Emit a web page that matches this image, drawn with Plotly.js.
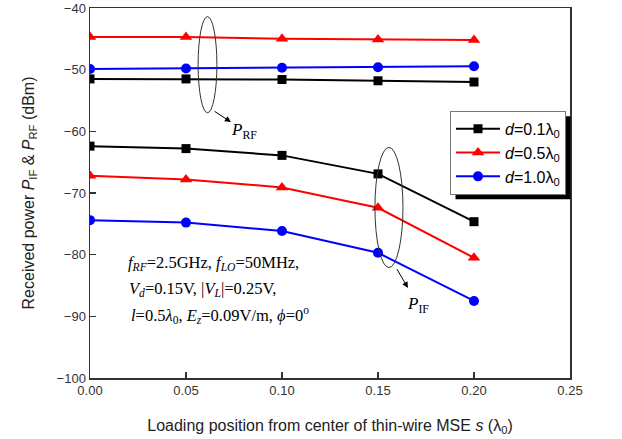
<!DOCTYPE html>
<html>
<head>
<meta charset="utf-8">
<script src="https://cdn.plot.ly/plotly-3.0.1.min.js"></script>
<style>html,body{margin:0;padding:0;background:#fff;}#chart{width:622px;height:439px;}</style>
</head>
<body>
<div id="chart"></div>
<script>
// Loading position s (in lambda0)
const positions = [0.00, 0.05, 0.10, 0.15, 0.20];
// Series labels
const seriesNames = ["<i>d</i>=0.1λ<sub>0</sub>", "<i>d</i>=0.5λ<sub>0</sub>", "<i>d</i>=1.0λ<sub>0</sub>"];
// Received RF power (dBm)
const pRF_d01 = [-51.5, -51.5, -51.6, -51.8, -52.0];
const pRF_d05 = [-44.7, -44.7, -45.0, -45.1, -45.2];
const pRF_d10 = [-49.9, -49.8, -49.7, -49.6, -49.45];
// Received IF power (dBm)
const pIF_d01 = [-62.4, -62.8, -63.9, -66.9, -74.65];
const pIF_d05 = [-67.2, -67.8, -69.1, -72.4, -80.5];
const pIF_d10 = [-74.4, -74.8, -76.15, -79.7, -87.5];
// Axis ticks
const xTicks = [0.00, 0.05, 0.10, 0.15, 0.20, 0.25];
const xTickLabels = ["0.00", "0.05", "0.10", "0.15", "0.20", "0.25"];
const yTicks = [-100, -90, -80, -70, -60, -50, -40];

const colors = ["#000000", "#ff0000", "#0000ff"];
const symbols = ["square", "triangle-up", "circle"];
const msizes = [9, 11, 10];
const rf = [pRF_d01, pRF_d05, pRF_d10];
const iff = [pIF_d01, pIF_d05, pIF_d10];

const traces = [];
for (let i = 0; i < 3; i++) {
  traces.push({
    x: positions, y: iff[i], type: "scatter", mode: "lines+markers",
    name: seriesNames[i], legendgroup: "g" + i,
    line: {color: colors[i], width: 2},
    marker: {color: colors[i], symbol: symbols[i], size: msizes[i]}
  });
  traces.push({
    x: positions, y: rf[i], type: "scatter", mode: "lines+markers",
    name: seriesNames[i], legendgroup: "g" + i, showlegend: false,
    line: {color: colors[i], width: 2},
    marker: {color: colors[i], symbol: symbols[i], size: msizes[i]}
  });
}

const serif = "Liberation Serif, Times New Roman, serif";
const sans = "Liberation Sans, Arial, sans-serif";

const layout = {
  width: 622, height: 439,
  margin: {l: 90, r: 52, t: 8, b: 61},
  paper_bgcolor: "#ffffff", plot_bgcolor: "#ffffff",
  showlegend: true,
  legend: {
    x: 0.75, y: 0.722, xanchor: "left", yanchor: "top",
    bgcolor: "#ffffff", bordercolor: "#777777", borderwidth: 1,
    font: {family: sans, size: 16, color: "#000"},
    tracegroupgap: 0, itemwidth: 44
  },
  xaxis: {
    range: [0, 0.25], tickvals: xTicks, ticktext: xTickLabels,
    ticks: "inside", ticklen: 6, tickwidth: 1.5, tickcolor: "#333",
    showline: true, linecolor: "#333", linewidth: 1.5, mirror: true,
    showgrid: false, zeroline: false,
    tickfont: {family: sans, size: 13, color: "#333"},
    title: {text: "Loading position from center of thin-wire MSE <i>s</i> (λ<sub>0</sub>)",
            font: {family: sans, size: 16, color: "#222"}, standoff: 22}
  },
  yaxis: {
    range: [-100, -40], tickvals: yTicks,
    ticks: "inside", ticklen: 6, tickwidth: 1.5, tickcolor: "#333",
    showline: true, linecolor: "#333", linewidth: 1.5, mirror: true,
    showgrid: false, zeroline: false,
    tickfont: {family: sans, size: 13, color: "#333"},
    title: {text: "Received power <i>P</i><sub>IF</sub> &amp; <i>P</i><sub>RF</sub> (dBm)",
            font: {family: sans, size: 16, color: "#222"}, standoff: 18}
  },
  shapes: [
    {type: "rect", xref: "paper", yref: "paper", x0: 0.7604, x1: 1.003, y0: 0.492, y1: 0.708,
     fillcolor: "#000", line: {width: 0}, layer: "above"},
    {type: "circle", xref: "x", yref: "y", x0: 0.0563, x1: 0.0661, y0: -57.0, y1: -41.4,
     line: {color: "#333", width: 1}},
    {type: "circle", xref: "x", yref: "y", x0: 0.1484, x1: 0.1630, y0: -82.1, y1: -62.6,
     line: {color: "#333", width: 1}}
  ],
  annotations: [
    {x: 0.0734, y: -58.5, ax: 0.0641, ay: -56.6, axref: "x", ayref: "y", xref: "x", yref: "y",
     text: "", showarrow: true, arrowhead: 2, arrowsize: 1.2, arrowwidth: 1, arrowcolor: "#000"},
    {x: 0.0722, y: -59.9, xref: "x", yref: "y", xanchor: "left", yanchor: "middle", showarrow: false,
     text: "<i>P</i><sub>RF</sub>", font: {family: serif, size: 17, color: "#000"}},
    {x: 0.1656, y: -85.4, ax: 0.1594, ay: -82.1, axref: "x", ayref: "y", xref: "x", yref: "y",
     text: "", showarrow: true, arrowhead: 2, arrowsize: 1.2, arrowwidth: 1, arrowcolor: "#000"},
    {x: 0.1640, y: -88.1, xref: "x", yref: "y", xanchor: "left", yanchor: "middle", showarrow: false,
     text: "<i>P</i><sub>IF</sub>", font: {family: serif, size: 17, color: "#000"}},
    {x: 0.0185, y: -81.3, xref: "x", yref: "y", xanchor: "left", yanchor: "middle", showarrow: false,
     text: "<i>f<sub>RF</sub></i>=2.5GHz, <i>f<sub>LO</sub></i>=50MHz,", font: {family: serif, size: 16.5, color: "#000"}},
    {x: 0.0195, y: -85.6, xref: "x", yref: "y", xanchor: "left", yanchor: "middle", showarrow: false,
     text: "<i>V<sub>d</sub></i>=0.15V, |<i>V<sub>L</sub></i>|=0.25V,", font: {family: serif, size: 16.5, color: "#000"}},
    {x: 0.0205, y: -89.8, xref: "x", yref: "y", xanchor: "left", yanchor: "middle", showarrow: false,
     text: "<i>l</i>=0.5<i>λ</i><sub>0</sub>, <i>E<sub>z</sub></i>=0.09V/m, <i>ϕ</i>=0<sup>o</sup>", font: {family: serif, size: 16.5, color: "#000"}}
  ]
};

Plotly.newPlot("chart", traces, layout, {displayModeBar: false, staticPlot: true}).then(function (gd) {
  // align the legend drop shadow with the rendered legend box
  const bg = gd.querySelector(".legend .bg");
  if (!bg) return;
  const r = bg.getBoundingClientRect();
  const c = gd.getBoundingClientRect();
  const fl = gd._fullLayout._size;
  const off = 5;
  const px2x = function (px) { return (px - c.left - fl.l) / fl.w; };
  const px2y = function (py) { return 1 - (py - c.top - fl.t) / fl.h; };
  return Plotly.relayout(gd, {
    "shapes[0].x0": px2x(r.left + off), "shapes[0].x1": px2x(r.right + off),
    "shapes[0].y0": px2y(r.bottom + off), "shapes[0].y1": px2y(r.top + off)
  });
});
</script>
</body>
</html>
